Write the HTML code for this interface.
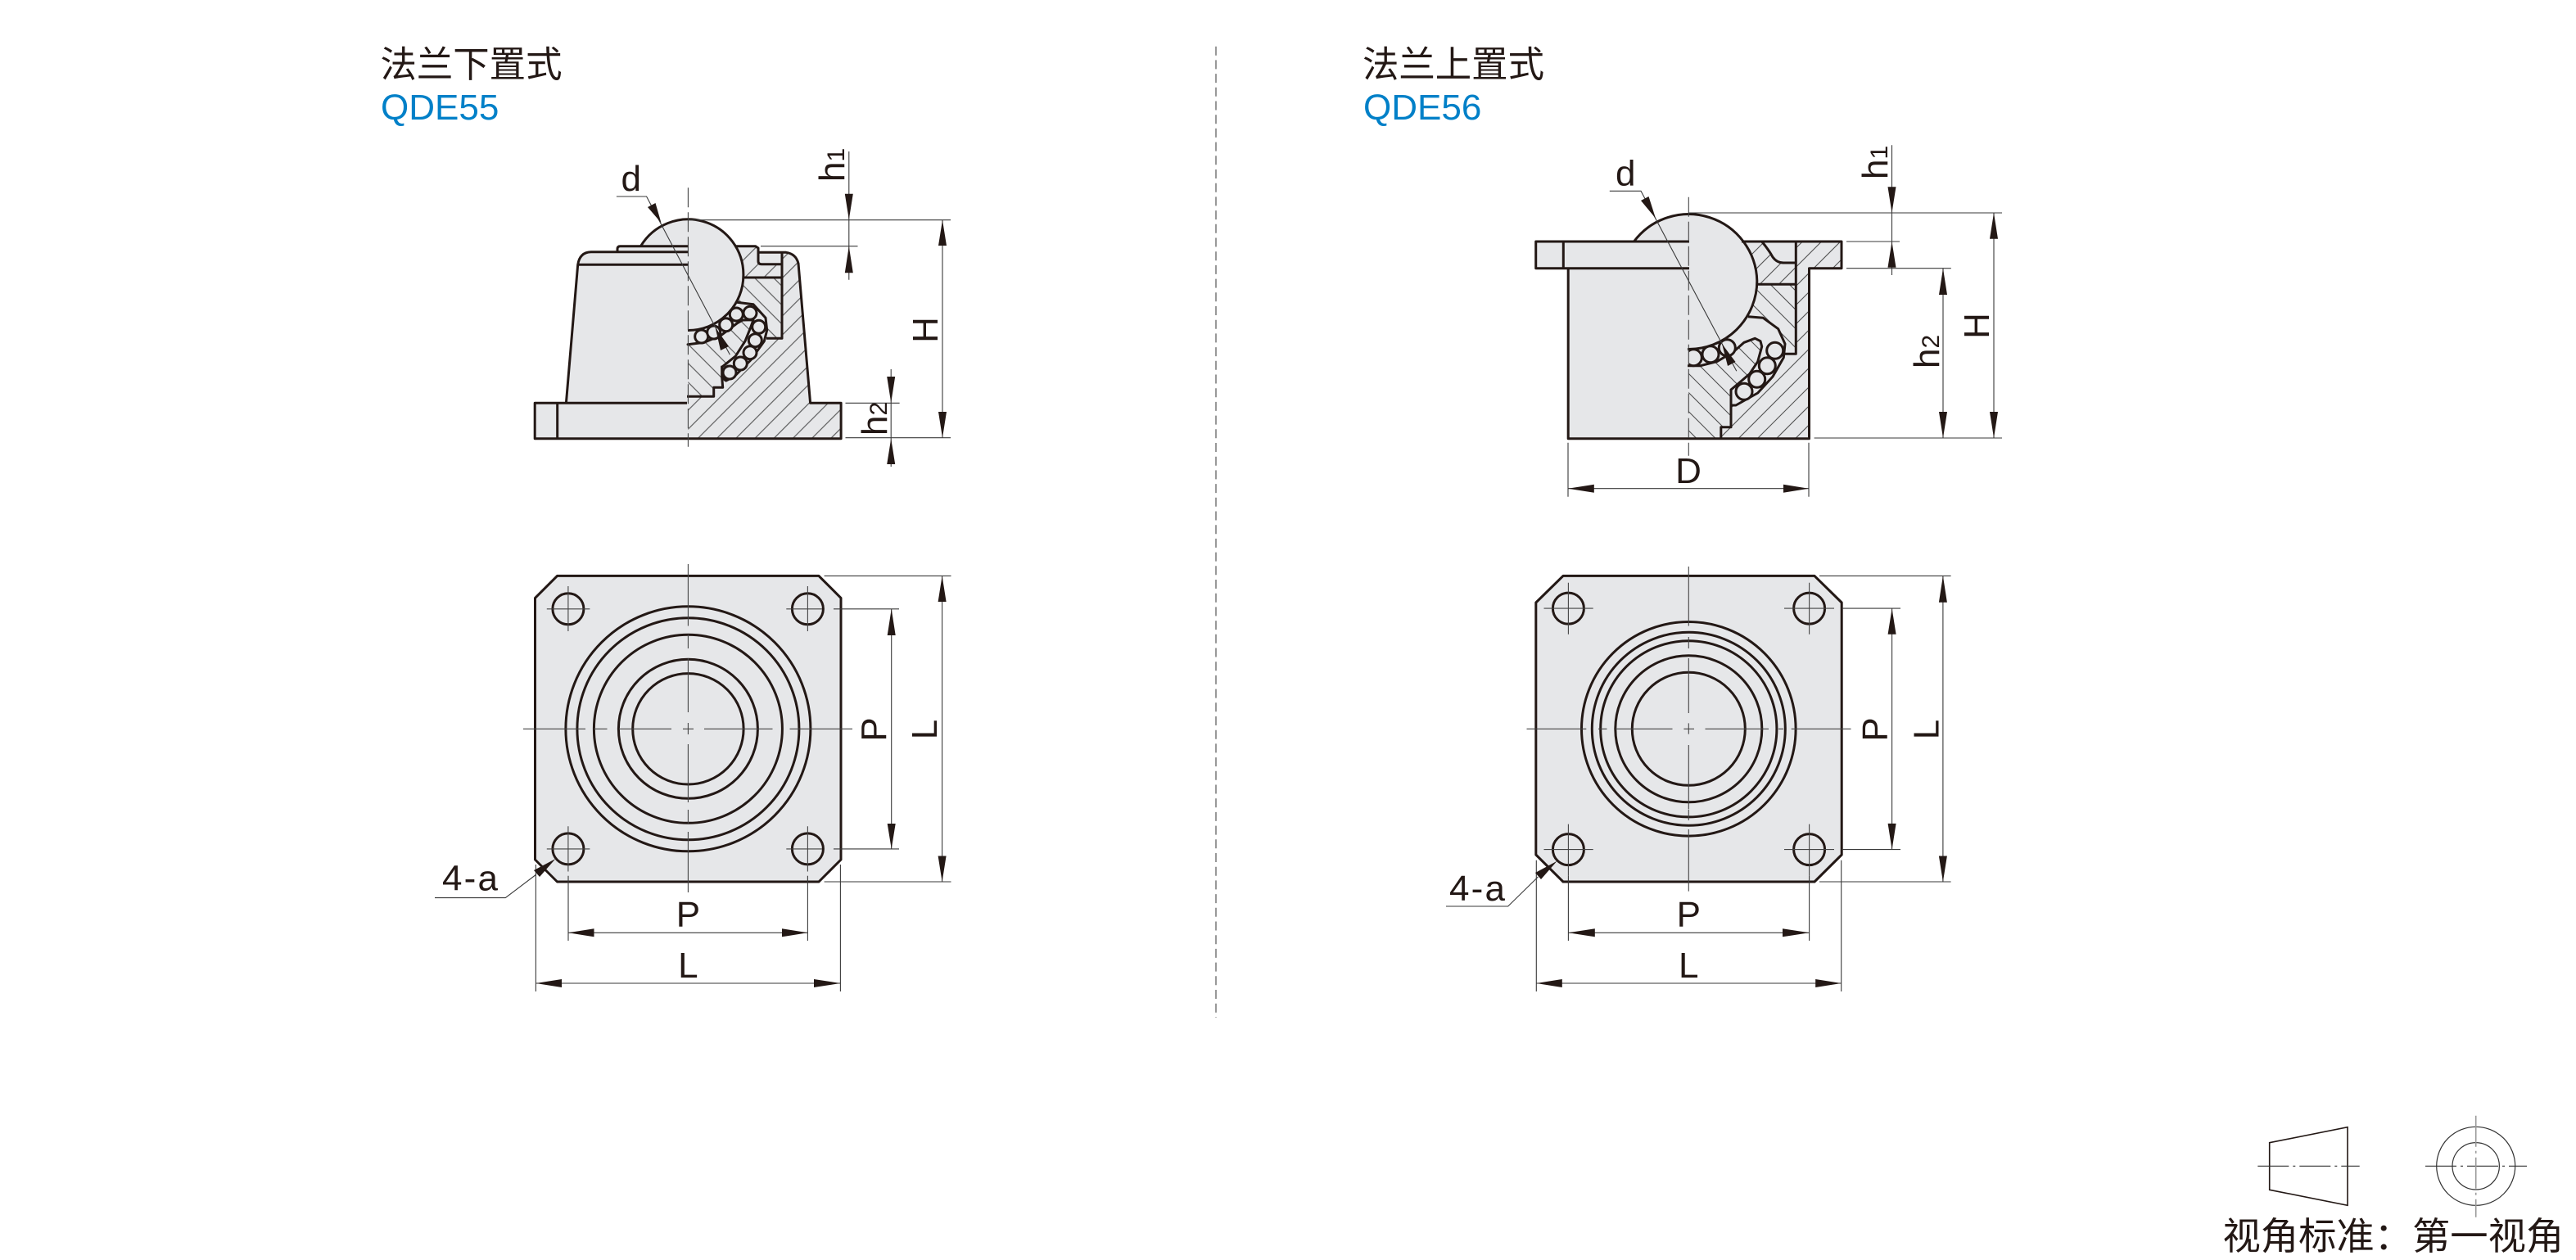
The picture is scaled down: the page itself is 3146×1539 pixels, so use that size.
<!DOCTYPE html>
<html><head><meta charset="utf-8"><style>
html,body{margin:0;padding:0;background:#fff;width:3146px;height:1539px;overflow:hidden}
svg{display:block}
text{font-family:"Liberation Sans","Noto Sans CJK SC",sans-serif;fill:#231815}
.k{fill:none;stroke:#231815;stroke-width:3;stroke-linejoin:round}
.t{fill:none;stroke:#3a3a3a;stroke-width:1.1}
.f{fill:#e6e7e9;stroke:none}
.a{fill:#231815;stroke:none}
.c{fill:none;stroke:#444;stroke-width:1.1}
.d{font-size:44px}
</style></head><body>
<svg width="3146" height="1539" viewBox="0 0 3146 1539" xmlns="http://www.w3.org/2000/svg">
<defs>
<pattern id="hs" width="16.4" height="16.4" patternUnits="userSpaceOnUse" patternTransform="rotate(45)"><line x1="13.7" y1="0" x2="13.7" y2="16.4" stroke="#444" stroke-width="1"/></pattern>
<pattern id="hs2" width="16.4" height="16.4" patternUnits="userSpaceOnUse" patternTransform="rotate(45)"><line x1="10.4" y1="0" x2="10.4" y2="16.4" stroke="#444" stroke-width="1"/></pattern>
<pattern id="hb" width="16.4" height="16.4" patternUnits="userSpaceOnUse" patternTransform="rotate(-45)"><line x1="1.7" y1="0" x2="1.7" y2="16.4" stroke="#444" stroke-width="1"/></pattern>
<pattern id="hb2" width="16.4" height="16.4" patternUnits="userSpaceOnUse" patternTransform="rotate(-45)"><line x1="4" y1="0" x2="4" y2="16.4" stroke="#444" stroke-width="1"/></pattern>
<clipPath id="cl"><rect x="840.4" y="300" width="200" height="240"/></clipPath>
<clipPath id="cr"><rect x="2062.3" y="300" width="200" height="240"/></clipPath>
</defs>

<!-- titles -->
<text x="464.5" y="94" font-size="44.4">法兰下置式</text>
<text x="465" y="146" font-size="44" style="fill:#0080c8">QDE55</text>
<text x="1664" y="94" font-size="44.4">法兰上置式</text>
<text x="1665" y="146" font-size="44" style="fill:#0080c8">QDE56</text>

<!-- divider -->
<line x1="1485" y1="56.7" x2="1485" y2="1243" stroke="#999" stroke-width="2" stroke-dasharray="11 5.7"/>

<!-- ============ LEFT SECTION ============ -->
<path class="f" d="M653.2 492.3H691.4L705.7 323.3Q708 308 721.8 307.7H754V304Q754 300.7 757.5 300.7H922.7L926 303V308.3H960Q972 310 975 321.7L989.6 492.3H1027.1V535.7H653.2Z"/>
<path d="M955 308.3H960Q972 310 975 321.7L989.6 492.3H1027.1V535.7H840.4V484.3H871.7V473.3H882.7L886.7 465L936 413.3H955Z" fill="url(#hs)"/>
<path d="M908 339H955V413.3H936L886 465L882.7 473.3H871.7V484.3H840.4V400Z" fill="url(#hb)"/>
<path d="M898 300.7H922.7L926 303V319Q926 322.7 930 322.7H955V339H908Z" fill="url(#hs)"/>
<!-- cage -->
<path class="f" d="M840 403L900 369.3L920 371.7L935 388.3L936.7 403.3L933.3 416.7L916.7 440L896.7 460L886.7 465L882.7 461.7L881.7 448.3L898.3 435L910 416.7L916.7 400L920 390.7L907 391L900 395L880 410L860 418.3L840 420.7Z"/>
<path class="k" stroke-width="3.4" stroke-linecap="round" d="M840 420.7L860 418.3L880 410L900 395L907 391L920 390.7L916.7 400L910 416.7L898.3 435L881.7 448.3L882.7 461.7L886.7 465L896.7 460L916.7 440L933.3 416.7L936.7 403.3L935 388.3L920 371.7L900 369.3"/>
<path class="k" d="M881.7 446.7V461L882.7 473.3H871.7V484.3H839"/>
<g clip-path="url(#cl)"><g class="f" style="stroke:#231815;stroke-width:3">
<circle cx="856.7" cy="411" r="8"/><circle cx="871.7" cy="406" r="8"/><circle cx="886.7" cy="396.7" r="8"/><circle cx="899.3" cy="384" r="8"/><circle cx="916" cy="382.3" r="8"/><circle cx="926.7" cy="399.3" r="8"/><circle cx="922.3" cy="415.7" r="8"/><circle cx="916" cy="430.7" r="8"/><circle cx="904.3" cy="444" r="8"/><circle cx="891" cy="455" r="8"/>
</g></g>
<!-- ball -->
<path class="f" d="M782.5 300.7A67.5 67.5 0 0 1 907.9 336A67.5 67.5 0 0 1 840.4 403.5Z"/>
<path class="k" stroke-width="3.2" d="M782.5 300.7A67.5 67.5 0 0 1 907.9 336A67.5 67.5 0 0 1 840 403.5"/>
<!-- outlines -->
<path class="k" d="M839 492.3H653.2V535.7H1027.1V492.3H989.6L975 321.7Q972 310 960 308.3H926.7"/>
<path class="k" d="M680.7 492.3V535.7M691.4 492.3L705.7 323.3Q708 308 721.8 307.7H841M705.7 323.3H841M754 307.7V304Q754 300.7 757.5 300.7H841"/>
<path class="k" d="M898.3 300.7H922.7L926 303V319Q926 322.7 930 322.7H955M955 308V413.3H936M908 339H955"/>
<!-- centre line -->
<line class="c" x1="840.4" y1="229.3" x2="840.4" y2="545.7" stroke-dasharray="24 6"/>
<!-- d leader -->
<path class="t" d="M752.9 240H789.6L891.4 433.3"/>
<polygon class="a" points="807.5,272.3 791,253 800.5,248"/>
<polygon class="a" points="873.6,400 880,428 890,423"/>
<text class="d" x="758.5" y="233">d</text>
<!-- h1 -->
<path class="t" d="M1036.8 185V341.7M840 268.7H1161M929 300.7H1047.5"/>
<polygon class="a" points="1036.8,268.3 1031.8,236.7 1041.8,236.7"/>
<polygon class="a" points="1036.8,300.7 1031.8,333.3 1041.8,333.3"/>
<text transform="translate(1031,222) rotate(-90)" font-size="44">h<tspan font-size="30">1</tspan></text>
<!-- H -->
<path class="t" d="M1151 268.7V534.7M1032.5 534.7H1161M1032.5 492.3H1098.6"/>
<polygon class="a" points="1151,268.7 1146,300 1156,300"/>
<polygon class="a" points="1151,534.7 1146,503 1156,503"/>
<text transform="translate(1145,403) rotate(-90)" font-size="44" text-anchor="middle">H</text>
<!-- h2 -->
<path class="t" d="M1088.2 451V570"/>
<polygon class="a" points="1088.2,492 1083.2,460 1093.2,460"/>
<polygon class="a" points="1088.2,535.7 1083.2,567 1093.2,567"/>
<text transform="translate(1083,532) rotate(-90)" font-size="44">h<tspan font-size="30">2</tspan></text>

<!-- ============ RIGHT SECTION ============ -->
<path class="f" d="M1875.7 295H2249V327.7H2209.5V535.7H1915.2V327.7H1875.7Z"/>
<path d="M2193.3 295H2249V327.7H2209.3V535.7H2101.8V521.7H2114V495L2124.7 493.3L2178 436.7L2180 432.3H2193.3Z" fill="url(#hs2)"/>
<path d="M2146.7 347.3H2193.3V432.3H2180L2124 493L2114 495V521.7H2101.8V535.7H2062.3V425Z" fill="url(#hb2)"/>
<path d="M2130 295H2151.7L2173 320H2193.3V347.3H2146.7Z" fill="url(#hs2)"/>
<!-- cage -->
<path class="f" d="M2062 425.7L2135 386.7L2153.3 388.3L2171.7 401.7L2180 420L2178.3 436.7L2165 460L2146.7 480L2120 495L2115 495L2114 476L2123.3 468.3L2136.7 456.7L2146.7 441.7L2151.7 423.3L2150 416.7L2143.3 413.3L2130 418.3L2116.7 430L2096.7 441.7L2076.7 446.7L2061.7 446.7Z"/>
<path class="k" stroke-width="3.4" d="M2135 386.7L2153.3 388.3L2171.7 401.7L2180 420L2178.3 436.7L2165 460L2146.7 480L2120 495L2115 495"/>
<path class="k" stroke-width="3.4" d="M2061 446.7L2076.7 446.7L2096.7 441.7L2116.7 430L2130 418.3L2143.3 413.3L2150 416.7L2151.7 423.3L2146.7 441.7L2136.7 456.7L2123.3 468.3L2114 476V521.7H2101.8V535.7"/>
<g clip-path="url(#cr)"><g class="f" style="stroke:#231815;stroke-width:3">
<circle cx="2068.3" cy="436.7" r="10"/><circle cx="2089" cy="432.7" r="10"/><circle cx="2109.3" cy="424.7" r="10"/><circle cx="2167.7" cy="428.3" r="10"/><circle cx="2158.3" cy="446.7" r="10"/><circle cx="2145.7" cy="463.3" r="10"/><circle cx="2130" cy="478.3" r="10"/>
</g></g>
<!-- ball -->
<path class="f" d="M1995.5 295A83.5 83.5 0 0 1 2145.8 343A83.5 83.5 0 0 1 2062.3 426.5Z"/>
<path class="k" stroke-width="3.2" d="M1995.5 295A83.5 83.5 0 0 1 2145.8 343A83.5 83.5 0 0 1 2061 426.5"/>
<!-- outlines -->
<path class="k" d="M2063 295H1875.7V327.7H2063M1909.3 295V327.7M1915.2 327.7V535.7H2209.5V327.7H2249V295H2127"/>
<path class="k" d="M2151.7 295Q2160 305 2165 314Q2170 321 2178 321H2193.3M2193.3 295V432.3H2180M2146.7 347.3H2193.3"/>
<line class="c" x1="2062.3" y1="240.7" x2="2062.3" y2="556.7" stroke-dasharray="24 6"/>
<!-- d -->
<path class="t" d="M1965.8 233.3H2004L2120.8 453.3"/>
<polygon class="a" points="2022,266.7 2004,245 2013.5,240"/>
<polygon class="a" points="2103,420 2110,447 2119.5,442"/>
<text class="d" x="1973" y="226.7">d</text>
<!-- h1 -->
<path class="t" d="M2310.5 177.3V336M2062 260H2445M2255 295H2320"/>
<polygon class="a" points="2310.5,260 2305.5,228.3 2315.5,228.3"/>
<polygon class="a" points="2310.5,295 2305.5,326.7 2315.5,326.7"/>
<text transform="translate(2305,219) rotate(-90)" font-size="44">h<tspan font-size="30">1</tspan></text>
<!-- H -->
<path class="t" d="M2435 260V535M2215.6 535H2445M2255 327.7H2382.8"/>
<polygon class="a" points="2435,260 2430,291.7 2440,291.7"/>
<polygon class="a" points="2435,535 2430,503 2440,503"/>
<text transform="translate(2429,398) rotate(-90)" font-size="44" text-anchor="middle">H</text>
<!-- h2 -->
<path class="t" d="M2373 327.7V535"/>
<polygon class="a" points="2373,327.7 2368,360 2378,360"/>
<polygon class="a" points="2373,535 2368,503 2378,503"/>
<text transform="translate(2368,450) rotate(-90)" font-size="44">h<tspan font-size="30">2</tspan></text>
<!-- D -->
<path class="t" d="M1915 540.7V606.7M2209 540.7V606.7M1915 596.7H2209"/>
<polygon class="a" points="1915,596.7 1946.8,591.7 1946.8,601.7"/>
<polygon class="a" points="2209,596.7 2178,591.7 2178,601.7"/>
<text class="d" x="2062" y="590" text-anchor="middle">D</text>

<!-- ============ LEFT PLAN ============ -->
<path class="f" d="M680.5 703.4H1000L1027 730.4V1050L1000 1077H680.5L653.5 1050V730.4Z"/>
<path class="k" d="M680.5 703.4H1000L1027 730.4V1050L1000 1077H680.5L653.5 1050V730.4Z"/>
<g class="k" stroke-width="2.8">
<circle cx="840.4" cy="890.3" r="149.5"/><circle cx="840.4" cy="890.3" r="135.5"/><circle cx="840.4" cy="890.3" r="115"/><circle cx="840.4" cy="890.3" r="85"/><circle cx="840.4" cy="890.3" r="67.7"/>
<circle cx="693.9" cy="743.8" r="19"/><circle cx="986.4" cy="743.8" r="19"/><circle cx="693.9" cy="1036.9" r="19"/><circle cx="986.4" cy="1036.9" r="19"/>
</g>
<path class="c" d="M639 890.3H715M725 890.3H741.5M756 890.3H820M834 890.3H847M860 890.3H943.5M964.5 890.3H1041M840.4 689V764.5M840.4 775V792M840.4 804V870M840.4 883V897M840.4 909V980M840.4 989V1006M840.4 1016V1090"/>
<path class="c" d="M667.8 743.8H720.4M693.9 716V771M960.3 743.8H1004M986.4 716V771M667.8 1036.9H720.4M693.9 1009.3V1064.5M960.3 1036.9H1004M986.4 1009.3V1064.5"/>
<!-- dims -->
<path class="t" d="M1006.6 703.4H1161.5M1006.6 1077H1161.5M1150.6 703.4V1077M1018 743.8H1098M1018 1036.9H1098M1088.7 743.8V1036.9"/>
<polygon class="a" points="1150.6,703.4 1145.6,735 1155.6,735"/><polygon class="a" points="1150.6,1077 1145.6,1045.5 1155.6,1045.5"/>
<polygon class="a" points="1088.7,743.8 1083.7,776 1093.7,776"/><polygon class="a" points="1088.7,1036.9 1083.7,1006 1093.7,1006"/>
<text transform="translate(1082,891) rotate(-90)" class="d" text-anchor="middle">P</text>
<text transform="translate(1144,891) rotate(-90)" class="d" text-anchor="middle">L</text>
<path class="t" d="M694 1069.7V1149M986.4 1069.7V1149M694 1139.3H986.4M654.4 1056V1211M1026.4 1056V1211M654.4 1201H1026.4"/>
<polygon class="a" points="694,1139.3 725.5,1134.3 725.5,1144.3"/><polygon class="a" points="986.4,1139.3 955,1134.3 955,1144.3"/>
<polygon class="a" points="654.4,1201 686,1196 686,1206"/><polygon class="a" points="1026.4,1201 994,1196 994,1206"/>
<text class="d" x="840.4" y="1131.7" text-anchor="middle">P</text>
<text class="d" x="840.4" y="1193.8" text-anchor="middle">L</text>
<path class="t" d="M531 1096.6H617.3L655 1068"/>
<polygon class="a" points="678.4,1049 652,1063 659,1071"/>
<text class="d" x="540" y="1087.5" textLength="68">4-a</text>

<!-- ============ RIGHT PLAN ============ -->
<path class="f" d="M1909 703.4H2216L2249.2 736V1044L2216 1077H1909L1875.8 1044V736Z"/>
<path class="k" d="M1909 703.4H2216L2249.2 736V1044L2216 1077H1909L1875.8 1044V736Z"/>
<g class="k" stroke-width="2.8">
<circle cx="2062.3" cy="890.3" r="130.8"/><circle cx="2062.3" cy="890.3" r="118"/><circle cx="2062.3" cy="890.3" r="107.6"/><circle cx="2062.3" cy="890.3" r="89.5"/><circle cx="2062.3" cy="890.3" r="69"/>
<circle cx="1915.4" cy="743.1" r="19"/><circle cx="2209.6" cy="743.1" r="19"/><circle cx="1915.4" cy="1037.6" r="19"/><circle cx="2209.6" cy="1037.6" r="19"/>
</g>
<path class="c" d="M1864.5 890.3H1937.3M1952 890.3H1962.5M1973 890.3H2042.5M2056.4 890.3H2069M2082.5 890.3H2160M2172 890.3H2178M2187.7 890.3H2260.5M2062.3 692V764.5M2062.3 778V792M2062.3 804V871M2062.3 883.4V896.6M2062.3 910V988M2062.3 988.6V1002M2062.3 1013V1088.6"/>
<path class="c" d="M1885.5 743.1H1945.7M1915.4 711.7V774.8M2179 743.1H2240M2209.6 711.7V774.8M1885.5 1037.6H1945.7M1915.4 1006.6V1069.7M2179 1037.6H2240M2209.6 1006.6V1069.7"/>
<path class="t" d="M2222 703.4H2382.6M2222 1077H2382.6M2372.9 703.4V1077M2249.6 743.1H2321M2249.6 1037.6H2321M2310.6 743.1V1037.6"/>
<polygon class="a" points="2372.9,703.4 2367.9,735.7 2377.9,735.7"/><polygon class="a" points="2372.9,1077 2367.9,1045.5 2377.9,1045.5"/>
<polygon class="a" points="2310.6,743.1 2305.6,774.8 2315.6,774.8"/><polygon class="a" points="2310.6,1037.6 2305.6,1005.9 2315.6,1005.9"/>
<text transform="translate(2304.7,891) rotate(-90)" class="d" text-anchor="middle">P</text>
<text transform="translate(2367.4,891) rotate(-90)" class="d" text-anchor="middle">L</text>
<path class="t" d="M1915.4 1069.7V1149M2209.6 1069.7V1149M1915.4 1139.3H2209.6M1876.3 1050.7V1211M2248.7 1050.7V1211M1876.3 1201H2248.7"/>
<polygon class="a" points="1915.4,1139.3 1947.8,1134.3 1947.8,1144.3"/><polygon class="a" points="2209.6,1139.3 2177,1134.3 2177,1144.3"/>
<polygon class="a" points="1876.3,1201 1907.8,1196 1907.8,1206"/><polygon class="a" points="2248.7,1201 2217.2,1196 2217.2,1206"/>
<text class="d" x="2062.3" y="1131.7" text-anchor="middle">P</text>
<text class="d" x="2062.3" y="1193.8" text-anchor="middle">L</text>
<path class="t" d="M1766 1107H1841.7L1878.4 1071"/>
<polygon class="a" points="1901.5,1051.7 1875,1066 1882,1074"/>
<text class="d" x="1770" y="1100" textLength="68">4-a</text>

<!-- ============ LEGEND ============ -->
<path fill="none" stroke="#231815" stroke-width="1.6" d="M2771.7 1395.7L2867 1376.7V1472.3L2771.7 1453.3Z"/>
<line x1="2757.3" y1="1424.3" x2="2881.7" y2="1424.3" stroke="#333" stroke-width="1.1" stroke-dasharray="38 5 3 5"/>
<circle cx="3023.7" cy="1424.3" r="48" fill="none" stroke="#333" stroke-width="1.2"/>
<circle cx="3023.7" cy="1424.3" r="28.7" fill="none" stroke="#333" stroke-width="1.2"/>
<line x1="2962" y1="1424.3" x2="3086" y2="1424.3" stroke="#333" stroke-width="1.1" stroke-dasharray="38 5 3 5"/>
<line x1="3023.7" y1="1362.7" x2="3023.7" y2="1486.7" stroke="#999" stroke-width="1.6" stroke-dasharray="38 5 3 5"/>
<text x="2714.5" y="1526" font-size="46.3">视角标准：第一视角</text>
</svg>
</body></html>
